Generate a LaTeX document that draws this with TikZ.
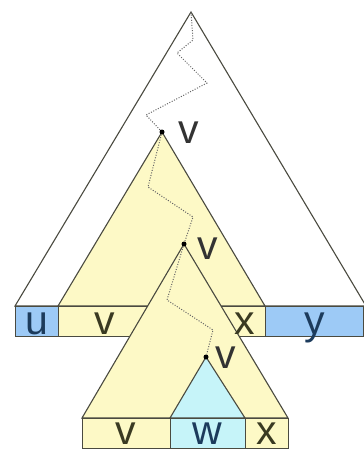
\documentclass[tikz,border=0pt]{standalone}
\usepackage{fontspec}
\setsansfont{Liberation Sans}
\usetikzlibrary{calc}
\definecolor{treeYellow}{HTML}{FDF9C6}
\definecolor{cellBlue}{HTML}{9DCAF6}
\definecolor{cellCyan}{HTML}{C6F4F9}
\definecolor{edgeGray}{HTML}{4A4A40}
\definecolor{inkBlue}{HTML}{1C3B5C}
\definecolor{inkOlive}{HTML}{3A3A22}
\tikzset{
  font=\sffamily,
  tree/.style={draw=edgeGray, line width=1.1pt, line join=miter},
  cell/.style={draw=edgeGray, line width=0.9pt},
  walk/.style={draw=black!60, line width=1pt, dash pattern=on 1pt off 1.6pt},
  vertex/.style={circle, fill=black, inner sep=0pt, minimum size=5pt},
  cellText/.style={font=\sffamily\fontsize{41}{41}\selectfont, anchor=base, inner sep=0pt},
  vText/.style={font=\sffamily\fontsize{41}{41}\selectfont, anchor=base west, inner sep=0pt, text=black!80},
}

\begin{document}
\begin{tikzpicture}[x=1pt, y=-1pt]
\useasboundingbox (0,0) rectangle (364,450);

% apexes and base corners of the three nested trees
\coordinate (root)   at (191,12);
\coordinate (rootL)  at (15,306);
\coordinate (rootR)  at (366,306);
\coordinate (midTop) at (162,132);
\coordinate (midL)   at (58,306);
\coordinate (midR)   at (265,306);
\coordinate (lowTop) at (184,244);
\coordinate (lowL)   at (82,418);
\coordinate (lowR)   at (288,418);
\coordinate (wTop)   at (206,357);
\coordinate (wL)     at (170,418);
\coordinate (wR)     at (245,418);

\draw[tree, fill=white] (root) -- (rootL) -- (rootR) -- cycle;
\draw[tree, fill=treeYellow] (midTop) -- (midL) -- (midR) -- cycle;

% --- upper leaf row: u v x y ---
\draw[cell, fill=cellBlue]   (15,306) rectangle (58,336);
\draw[cell, fill=treeYellow] (58,306) rectangle (265,336);
\draw[cell, fill=cellBlue]   (265,306) rectangle (363.5,336);

\draw[tree, fill=treeYellow] (lowTop) -- (lowL) -- (lowR) -- cycle;
\draw[tree, fill=cellCyan] (wTop) -- (wL) -- (wR) -- cycle;

% --- lower leaf row: v w x ---
\draw[cell, fill=treeYellow] (82,418) rectangle (170,448);
\draw[cell, fill=cellCyan]   (170,418) rectangle (245,448);
\draw[cell, fill=treeYellow] (245,418) rectangle (288,448);

% --- repeated variable ---
\node[vertex] (n1) at (midTop) {};
\node[vertex] (n2) at (lowTop) {};
\node[vertex] (n3) at (wTop) {};

% --- dotted paths down the tree ---
\draw[walk] (root) -- (193,40) -- (177,53) -- (207,83) -- (146,115) -- (n1);
\draw[walk] (n1) -- (148,187) -- (193,217) -- (n2);
\draw[walk] (n2) -- (167,300) -- (213,330) -- (n3);

\node[vText] (v1) at ($(n1)+(16,11)$) {v};
\node[vText] (v2) at ($(n2)+(13,15)$) {v};
\node[vText] (v3) at ($(n3)+(9,11)$) {v};

\node[cellText, text=inkBlue]  (uTop) at (36.5,334) {u};
\node[cellText, text=inkOlive] (vTop) at (105,334) {v};
\node[cellText, text=inkOlive] (xTop) at (245,334) {x};
\node[cellText, text=inkBlue]  (yTop) at (315,334) {y};

\node[cellText, text=inkOlive] (vLow) at (126,444) {v};
\node[cellText, text=inkBlue]  (wLow) at (207.5,444) {w};
\node[cellText, text=inkOlive] (xLow) at (266.5,444) {x};

\end{tikzpicture}
\end{document}
